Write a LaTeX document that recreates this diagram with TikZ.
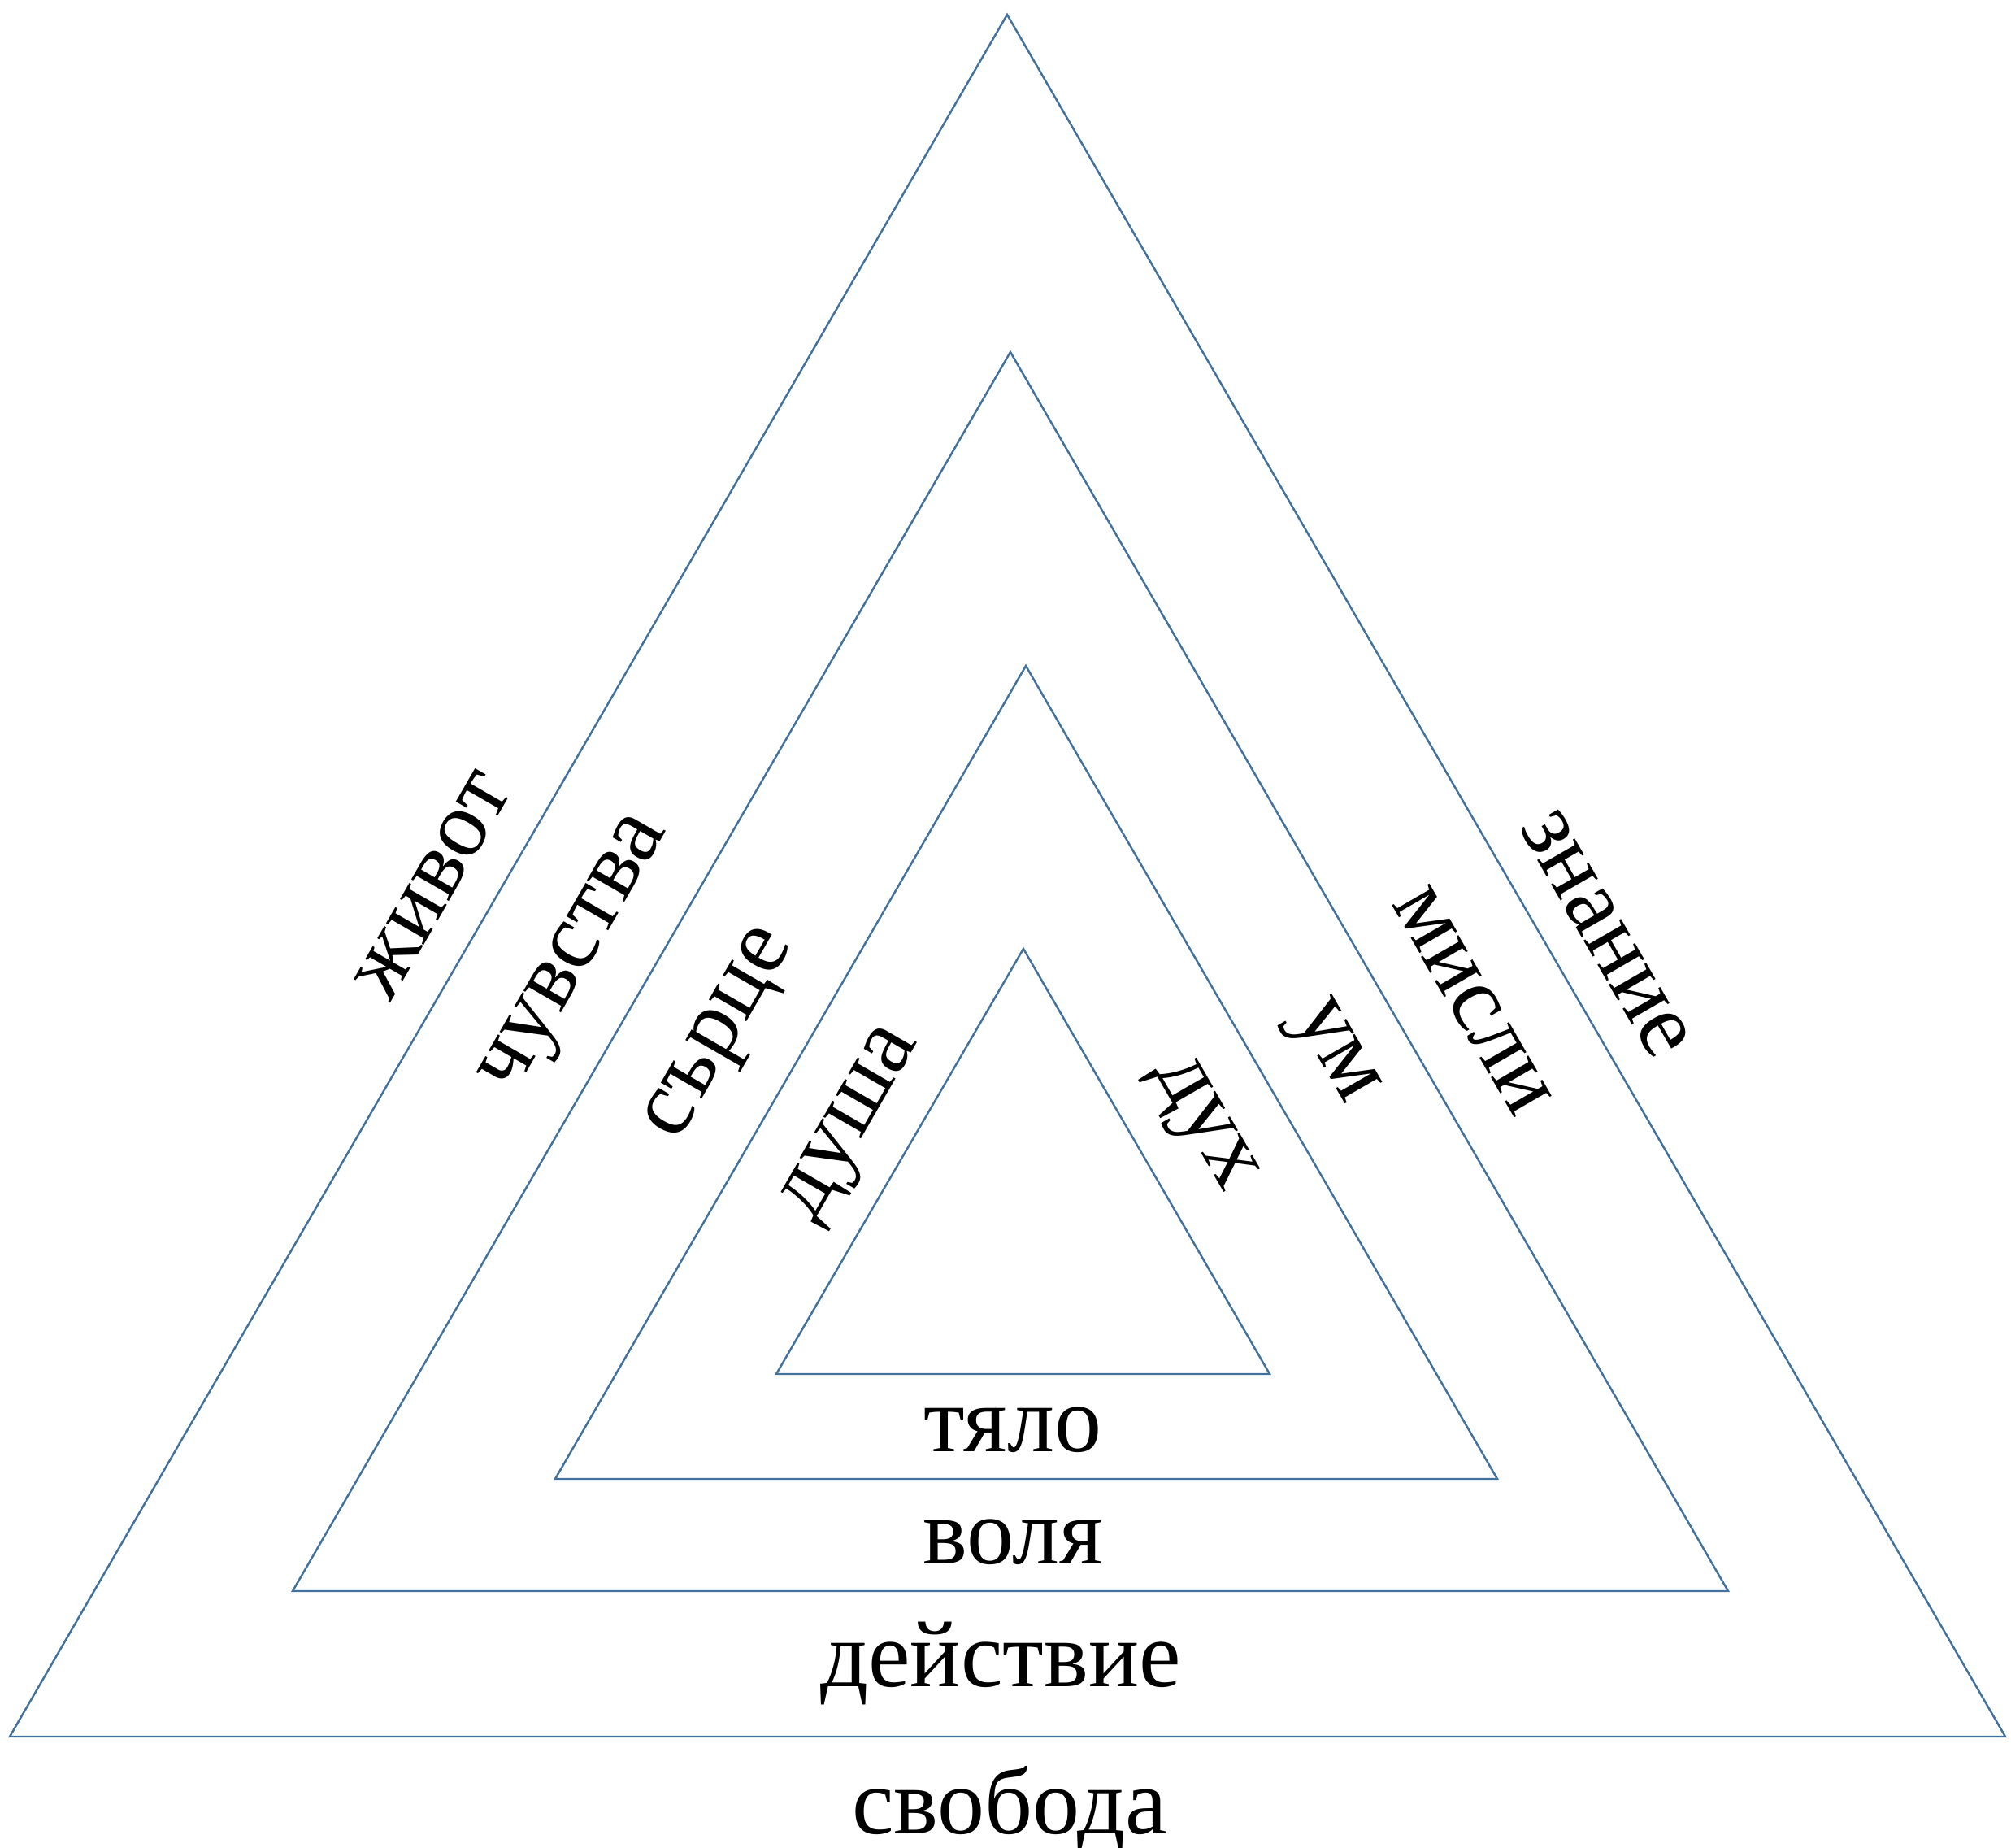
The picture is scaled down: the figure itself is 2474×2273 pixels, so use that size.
\documentclass[tikz,border=0pt]{standalone}
\usepackage{fontspec}
\setmainfont{Liberation Serif}
\usepackage{tikz}

\definecolor{edgeblue}{HTML}{41719C}
\tikzset{
  side/.style={draw=edgeblue,line width=0.7pt,line join=miter},
  word/.style={inner sep=0pt,font=\fontsize{33}{40}\selectfont}
}

\begin{document}
\begin{tikzpicture}[x=0.01cm,y=-0.01cm]
\useasboundingbox (0,0) rectangle (2474,2273);
\coordinate (t1) at (1239,18);
\coordinate (l1) at (12,2136);
\coordinate (r1) at (2467,2136);
\coordinate (t2) at (1243,433);
\coordinate (l2) at (360,1957);
\coordinate (r2) at (2126,1957);
\coordinate (t3) at (1262,819);
\coordinate (l3) at (683,1819);
\coordinate (r3) at (1842,1819);
\coordinate (t4) at (1259,1167);
\coordinate (l4) at (955,1690);
\coordinate (r4) at (1562,1690);
\draw[side] (t1) -- (l1) -- (r1) -- cycle;
\draw[side] (t2) -- (l2) -- (r2) -- cycle;
\draw[side] (t3) -- (l3) -- (r3) -- cycle;
\draw[side] (t4) -- (l4) -- (r4) -- cycle;
\node[word] (svoboda) at (1242,2225) {свобода};
\node[word] (deistvie) at (1231,2046) {действие};
\node[word] (volya) at (1246,1897) {воля};
\node[word] (tyalo) at (1246,1759) {тяло};
\node[word,rotate=60] (zhivot) at (533,1089) {живот};
\node[word,rotate=60] (chuvstva) at (713,1177) {чувства};
\node[word,rotate=60] (sartse) at (891,1275) {сърце};
\node[word,rotate=60] (dusha) at (1052,1385) {душа};
\node[word,rotate=-60] (znanie) at (1975,1149) {знание};
\node[word,rotate=-60] (misli) at (1811,1231) {мисли};
\node[word,rotate=-60] (um) at (1636,1297) {ум};
\node[word,rotate=-60] (duh) at (1475,1385) {дух};
\end{tikzpicture}
\end{document}
